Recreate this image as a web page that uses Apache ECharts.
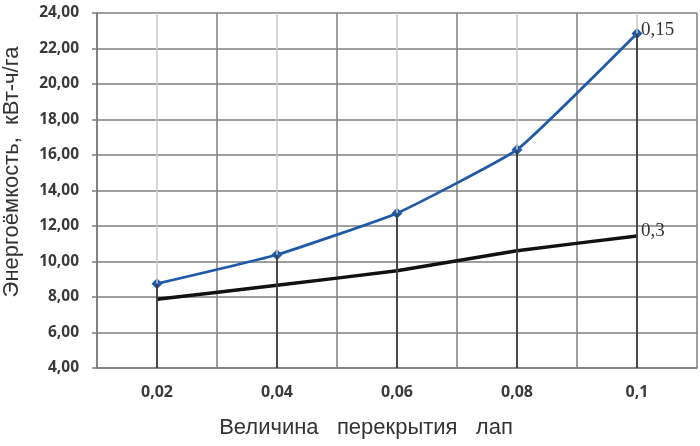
<!DOCTYPE html>
<html>
<head>
<meta charset="utf-8">
<script src="https://cdn.jsdelivr.net/npm/echarts@6/dist/echarts.min.js"></script>
<style>html,body{margin:0;padding:0;background:#fff;}#c{width:700px;height:446px;}</style>
</head>
<body>
<div id="c"></div>
<script>
const categories = ['0,02', '0,04', '0,06', '0,08', '0,1'];
const series015 = [8.75, 10.38, 12.72, 16.30, 22.85];
const series03 = [7.87, 8.66, 9.48, 10.60, 11.44];
const seriesNames = ['0,15', '0,3'];
const yTicks = { min: 4, max: 24, interval: 2 };
const xTitle = 'Величина   перекрытия   лап';
const yTitle = 'Энергоёмкость,  кВт-ч/га';

const chart = echarts.init(document.getElementById('c'), null, { renderer: 'canvas' });

const centerLines = categories.map(c => ({ xAxis: c }));
const dropLines = categories.map((c, i) => {
  const top = Math.max(series015[i], series03[i]);
  return [{ coord: [c, top] }, { coord: [c, yTicks.min] }];
});

const option = {
  animation: false,
  backgroundColor: '#ffffff',
  grid: { left: 97, right: 3, top: 13, bottom: 78, containLabel: false },
  xAxis: {
    type: 'category',
    data: categories,
    boundaryGap: true,
    axisLine: { show: true, lineStyle: { color: '#7a7a7a', width: 1.5 } },
    axisTick: { show: false },
    axisLabel: { margin: 16, color: '#3a3a3a', fontWeight: 'bold', fontSize: 16, fontFamily: 'Open Sans' },
    splitLine: { show: true, lineStyle: { color: '#7f7f7f', width: 1.5 } }
  },
  yAxis: {
    type: 'value',
    min: yTicks.min, max: yTicks.max, interval: yTicks.interval,
    axisLine: { show: true, lineStyle: { color: '#7a7a7a', width: 1.5 } },
    axisTick: { show: true, length: 5, lineStyle: { color: '#7a7a7a', width: 1.5 } },
    axisLabel: {
      margin: 18, color: '#3a3a3a', fontWeight: 'bold', fontSize: 15.5, fontFamily: 'Open Sans',
      formatter: v => v.toFixed(2).replace('.', ',')
    },
    splitLine: { show: true, lineStyle: { color: '#7f7f7f', width: 1.5 } }
  },
  graphic: [
    { type: 'text', x: 366, y: 428,
      style: { text: xTitle, fontSize: 22, fontFamily: 'Liberation Sans', fill: '#333', align: 'center', verticalAlign: 'middle' } },
    { type: 'text', rotation: Math.PI / 2, x: 12, y: 172,
      style: { text: yTitle, fontSize: 22, fontFamily: 'Liberation Sans', fill: '#333', align: 'center', verticalAlign: 'middle' } }
  ],
  series: [
    {
      type: 'line', name: 'guides', data: [], z: 1, silent: true,
      markLine: {
        silent: true, symbol: 'none', label: { show: false },
        lineStyle: { color: '#c8c8c8', width: 1.5, type: 'solid' },
        data: centerLines
      }
    },
    {
      type: 'line', name: 'drops', data: [], z: 2, silent: true,
      markLine: {
        silent: true, symbol: 'none', label: { show: false },
        lineStyle: { color: '#1a1a1a', width: 1.5, type: 'solid' },
        data: dropLines
      }
    },
    {
      type: 'line', name: seriesNames[1], data: series03, z: 3,
      smooth: 0.12, showSymbol: false, symbol: 'none',
      lineStyle: { color: '#111111', width: 3.5 },
      endLabel: { show: true, formatter: '{a}', fontFamily: 'Liberation Serif', fontSize: 19, color: '#333', distance: 4, offset: [0, -5] }
    },
    {
      type: 'line', name: seriesNames[0], data: series015, z: 4,
      smooth: 0.12, symbol: 'diamond', symbolSize: 11, showSymbol: true,
      itemStyle: { color: '#1f5aa8' },
      lineStyle: { color: '#1f5aa8', width: 2.8 },
      endLabel: { show: true, formatter: '{a}', fontFamily: 'Liberation Serif', fontSize: 19, color: '#333', distance: 4, offset: [0, -3] }
    }
  ]
};
chart.setOption(option);
</script>
</body>
</html>
